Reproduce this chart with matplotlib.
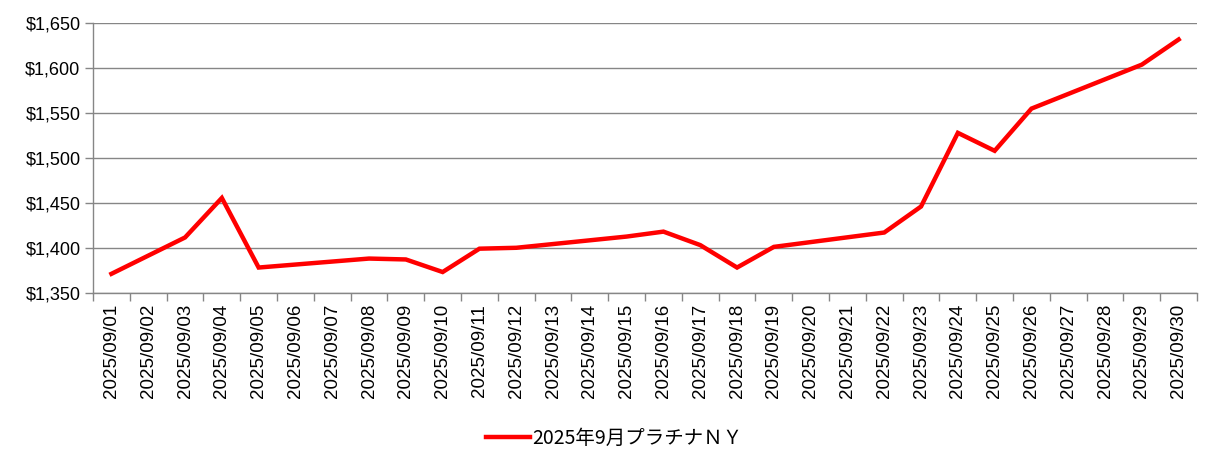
import numpy as np
import matplotlib
matplotlib.use('Agg')
import matplotlib.pyplot as plt
from matplotlib.ticker import FuncFormatter, FixedLocator

# datos (USD/oz) - dias sin cotizacion = None
fechas = ['2025/09/%02d' % d for d in range(1, 31)]
precios = [1371, None, 1411.5, 1455.5, 1378, None, None, 1388, 1387, 1373,
           1399, 1400, None, None, 1412.5, 1418, 1403, 1378, 1401, None,
           None, 1417, 1446, 1528, 1508, 1555, None, None, 1604, 1632]
serie_nombre = '2025年9月プラチナＮＹ'

plt.rcParams['font.family'] = ['Liberation Sans', 'DejaVu Sans']

x = np.arange(len(fechas))
y = np.array([np.nan if p is None else p for p in precios], dtype=float)
ok = ~np.isnan(y)

fig = plt.figure(figsize=(12.21, 4.71), dpi=100)
ax = fig.add_axes([0.0762, 0.3786, 0.9042, 0.5719])

ax.plot(x[ok], y[ok], color='#FF0000', lw=3.2, solid_joinstyle='miter', label=serie_nombre, zorder=3)

ax.set_xlim(-0.5, len(fechas) - 0.5)
ax.set_ylim(1350, 1650)
ax.set_yticks(np.arange(1350, 1651, 50))
ax.yaxis.set_major_formatter(FuncFormatter(lambda v, p: '${:,.0f}'.format(v)))
ax.grid(axis='y', color='#868686', lw=1)

ax.set_xticks(x)
ax.set_xticklabels(fechas, rotation=90, fontsize=13.5)
ax.xaxis.set_minor_locator(FixedLocator(np.arange(-0.5, len(fechas), 1)))
ax.tick_params(axis='x', which='major', length=0, pad=8)
ax.tick_params(axis='x', which='minor', length=6, color='#868686', width=1)
ax.tick_params(axis='y', length=6, color='#868686', width=1, labelsize=13, pad=3)

for s in ['top', 'right']:
    ax.spines[s].set_visible(False)
for s in ['left', 'bottom']:
    ax.spines[s].set_color('#868686')
    ax.spines[s].set_linewidth(1)

leg = fig.legend(loc='center', bbox_to_anchor=(0.503, 0.07), frameon=False,
                 prop={'family': ['Noto Sans CJK JP', 'DejaVu Sans'], 'size': 14},
                 handlelength=2.3, handletextpad=0.1)

fig.savefig('out.png', dpi=100)
